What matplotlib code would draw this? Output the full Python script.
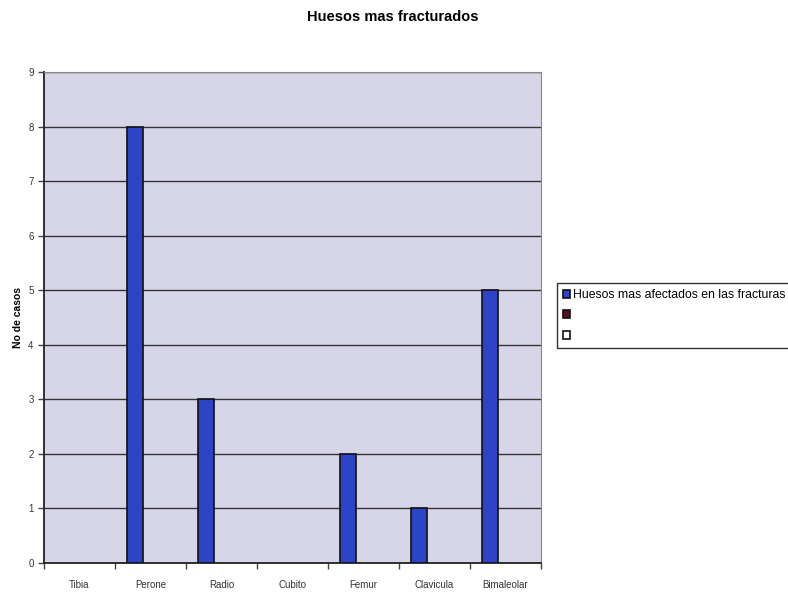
import numpy as np
import matplotlib.pyplot as plt
from matplotlib.patches import Patch

categories = ["Tibia", "Perone", "Radio", "Cubito", "Femur", "Clavicula", "Bimaleolar"]
casos = [0, 8, 3, 0, 2, 1, 5]
serie2 = [0, 0, 0, 0, 0, 0, 0]
serie3 = [0, 0, 0, 0, 0, 0, 0]
legend_labels = ["Huesos mas afectados en las fracturas", "", ""]

plt.rcParams["font.family"] = ["Liberation Sans", "DejaVu Sans"]

fig = plt.figure(figsize=(7.88, 5.93), dpi=100)
ax = fig.add_axes([44 / 788, 1 - 563 / 593, 497 / 788, 491 / 593])
ax.set_facecolor("#d7d6e8")

x = np.arange(len(categories))
w = 0.225
colors = ["#2d44c9", "#5a1020", "#ffffff"]
for i, vals in enumerate([casos, serie2, serie3]):
    # empty values get no bar outline
    h = np.where(np.array(vals) > 0, vals, np.nan)
    ax.bar(x + (i - 1) * w, h, width=w, color=colors[i],
           edgecolor="#111111", linewidth=1.2, zorder=3)

ax.set_xlim(-0.5, len(categories) - 0.5)
ax.set_ylim(0, 9)
ax.set_yticks(range(10))
ax.yaxis.grid(True, color="#333333", linewidth=1.0, zorder=1)
ax.set_xticks(x)
ax.set_xticklabels(categories, fontsize=7, color="#333333")
ax.set_xticks(np.arange(-0.5, len(categories)), minor=True)
ax.tick_params(axis="x", which="major", length=0, pad=12)
ax.tick_params(axis="x", which="minor", length=4, width=1, color="#444444")
ax.tick_params(axis="y", length=4, width=1, labelsize=7, color="#444444",
               labelcolor="#333333")

for side in ["top", "right"]:
    ax.spines[side].set_color("#888888")
    ax.spines[side].set_linewidth(0.8)
for side in ["left", "bottom"]:
    ax.spines[side].set_color("#222222")
    ax.spines[side].set_linewidth(1.3)

ax.set_ylabel("No de casos", fontsize=7.5, fontweight="bold", labelpad=4)
fig.suptitle("Huesos mas fracturados", x=393 / 788, y=1 - 10 / 593,
             fontsize=10.5, fontweight="bold", va="top")

handles = [Patch(facecolor=c, edgecolor="#111111", linewidth=1.2) for c in colors]
leg = fig.legend(handles, legend_labels, loc="upper left",
                 bbox_to_anchor=(557 / 788, 1 - 283 / 593),
                 fontsize=8.8, handlelength=0.6, handleheight=0.6,
                 handletextpad=0.2, labelspacing=0.7, borderpad=0.5,
                 borderaxespad=0, fancybox=False, framealpha=1,
                 edgecolor="#333333")
leg.get_frame().set_linewidth(1.0)

fig.savefig("out.png", dpi=100)
